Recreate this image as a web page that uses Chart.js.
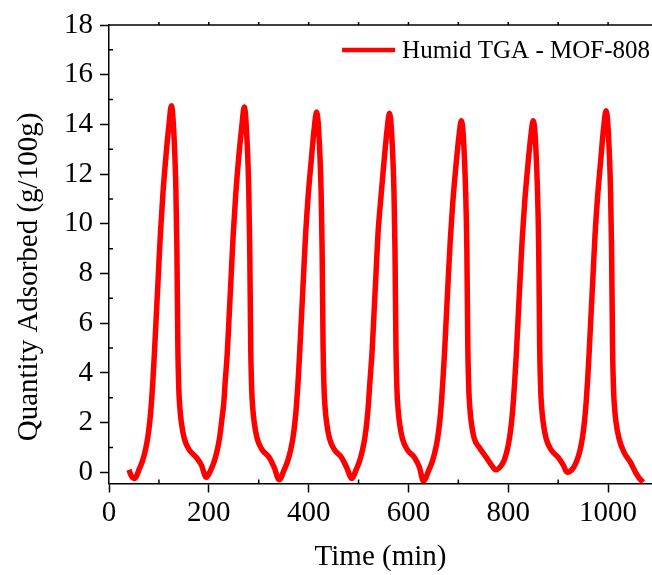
<!DOCTYPE html>
<html>
<head>
<meta charset="utf-8">
<script src="https://cdn.jsdelivr.net/npm/chart.js@4.4.1/dist/chart.umd.min.js"></script>
<style>
  html, body { margin: 0; padding: 0; background: #fff; }
</style>
</head>
<body>
<canvas id="tga" width="652" height="575"></canvas>
<script>
// labels
const seriesLabel = 'Humid TGA - MOF-808';
const xTitle = 'Time (min)';
const yTitle = 'Quantity Adsorbed (g/100g)';
const xTicks = [0, 200, 400, 600, 800, 1000];
const yTicks = [0, 2, 4, 6, 8, 10, 12, 14, 16, 18];

// seven adsorption / desorption cycles
const timeMin = [
  40, 45, 52, 60, 67, 73, 78, 82, 85, 88, 91, 95, 99, 103, 108, 114, 120, 125, 129, 134, 136, 138, 140, 142, 145, 151, 161, 175, 185, 195,
  204, 211, 217, 222, 226, 230, 233, 237, 241, 245, 249, 254, 260, 266, 271, 275, 280, 282, 284, 286, 288, 291, 297, 307, 321, 331, 341,
  351, 358, 364, 369, 373, 376, 379, 382, 386, 390, 394, 399, 405, 411, 416, 420, 425, 427, 429, 431, 433, 436, 442, 452, 466, 476, 487,
  495, 502, 508, 513, 517, 520, 523, 527, 531, 535, 539, 545, 551, 557, 562, 566, 571, 573, 575, 577, 579, 582, 588, 598, 612, 622, 630,
  641, 648, 654, 659, 663, 666, 669, 672, 676, 680, 684, 689, 695, 701, 706, 710, 715, 717, 719, 721, 723, 726, 732, 742, 756, 766, 775,
  785, 792, 798, 803, 807, 810, 813, 816, 820, 824, 828, 833, 839, 845, 850, 854, 859, 861, 863, 865, 867, 870, 876, 886, 900, 910, 918,
  931, 938, 944, 949, 953, 956, 959, 962, 966, 970, 974, 979, 985, 991, 996, 1000, 1005, 1007, 1009, 1011, 1013, 1016, 1022, 1032, 1045, 1055, 1063, 1070
];
const quantity = [
  0.1, -0.15, -0.25, 0.1, 0.45, 0.9, 1.45, 2.1, 2.8, 3.7, 4.8, 6.4, 8.0, 9.6, 11.2, 12.7, 13.95, 14.75, 14.0, 11.4, 9.0, 5.0, 3.3, 2.6, 2.0, 1.35, 0.9, 0.6, 0.3, -0.2,
  0.1, 0.45, 0.9, 1.45, 2.1, 2.8, 3.7, 4.8, 6.4, 8.0, 9.6, 11.2, 12.7, 13.9, 14.7, 13.95, 11.4, 9.0, 5.0, 3.3, 2.6, 2.0, 1.35, 0.9, 0.6, 0.2, -0.3,
  0.1, 0.45, 0.9, 1.45, 2.1, 2.8, 3.7, 4.8, 6.4, 8.0, 9.6, 11.1, 12.5, 13.8, 14.5, 13.8, 11.3, 9.0, 5.0, 3.3, 2.6, 2.0, 1.35, 0.9, 0.6, 0.2, -0.25,
  0.1, 0.45, 0.9, 1.45, 2.1, 2.8, 3.7, 4.8, 6.4, 8.0, 9.6, 11.1, 12.5, 13.75, 14.45, 13.75, 11.3, 9.0, 5.0, 3.3, 2.6, 2.0, 1.35, 0.9, 0.6, 0.2, -0.35,
  0.1, 0.45, 0.9, 1.45, 2.1, 2.8, 3.7, 4.7, 6.3, 7.9, 9.4, 10.9, 12.3, 13.5, 14.15, 13.5, 11.0, 9.0, 5.0, 3.3, 2.6, 2.0, 1.35, 1.0, 0.6, 0.3, 0.1,
  0.25, 0.5, 0.9, 1.45, 2.1, 2.8, 3.7, 4.7, 6.3, 7.9, 9.4, 10.9, 12.3, 13.5, 14.15, 13.5, 11.0, 9.0, 5.0, 3.3, 2.6, 2.0, 1.35, 0.9, 0.6, 0.3, 0.0,
  0.2, 0.5, 0.9, 1.45, 2.1, 2.8, 3.7, 4.8, 6.4, 8.0, 9.6, 11.1, 12.5, 13.85, 14.55, 13.85, 11.3, 9.0, 5.0, 3.3, 2.6, 2.0, 1.35, 0.8, 0.4, 0.0, -0.25, -0.4
];

const serif = "'Liberation Serif', 'Times New Roman', serif";

// top border, small inner ticks, legend and the y title
const framePlugin = {
  id: 'frame',
  afterDraw(chart) {
    const { ctx, chartArea: a, scales: { x, y } } = chart;
    ctx.save();
    ctx.strokeStyle = '#000';
    ctx.lineWidth = 1.5;
    ctx.beginPath();
    ctx.moveTo(a.left, a.top);
    ctx.lineTo(a.right, a.top);
    for (let v = 100; v <= x.max; v += 100) {
      const px = x.getPixelForValue(v);
      ctx.moveTo(px, a.top);
      ctx.lineTo(px, a.top - 3);
    }
    for (let v = 100; v <= x.max; v += 200) {
      const px = x.getPixelForValue(v);
      ctx.moveTo(px, a.bottom);
      ctx.lineTo(px, a.bottom - 4);
    }
    for (let v = 1; v < y.max; v += 2) {
      const py = y.getPixelForValue(v);
      ctx.moveTo(a.left, py);
      ctx.lineTo(a.left + 4, py);
    }
    ctx.stroke();

    // legend
    ctx.font = '25px ' + serif;
    ctx.fillStyle = '#000';
    ctx.textBaseline = 'alphabetic';
    const w = ctx.measureText(seriesLabel).width;
    const tx = a.right - 2 - w;
    const ty = a.top + 33;
    ctx.fillText(seriesLabel, tx, ty);
    ctx.strokeStyle = '#ff0000';
    ctx.lineWidth = 4.5;
    ctx.beginPath();
    ctx.moveTo(tx - 60, ty - 8);
    ctx.lineTo(tx - 7, ty - 8);
    ctx.stroke();

    // y axis title
    ctx.translate(29, 277);
    ctx.rotate(-Math.PI / 2);
    ctx.font = '29px ' + serif;
    ctx.textAlign = 'center';
    ctx.textBaseline = 'middle';
    ctx.fillText(yTitle, 0, 0);
    ctx.restore();
  }
};

const ctx = document.getElementById('tga').getContext('2d');
const chart = new Chart(ctx, {
  type: 'line',
  data: {
    datasets: [{
      label: seriesLabel,
      data: timeMin.map((t, i) => ({ x: t, y: quantity[i] })),
      borderColor: '#ff0000',
      backgroundColor: '#ff0000',
      borderWidth: 5.5,
      pointRadius: 0,
      cubicInterpolationMode: 'monotone',
      fill: false
    }]
  },
  options: {
    responsive: false,
    animation: false,
    layout: { padding: { top: 25, right: 0, bottom: 0, left: 0 } },
    plugins: {
      legend: { display: false },
      tooltip: { enabled: false }
    },
    scales: {
      x: {
        type: 'linear',
        min: 0,
        max: 1088,
        afterBuildTicks: (axis) => { axis.ticks = xTicks.map(v => ({ value: v })); },
        afterFit: (axis) => { axis.height = 91.5; },
        grid: { drawOnChartArea: false, tickLength: 9, tickWidth: 1.5, tickColor: '#000' },
        border: { color: '#000', width: 1.5 },
        ticks: { color: '#000', font: { family: serif, size: 29 }, padding: 3, maxRotation: 0, autoSkip: false,
                 callback: (v) => String(v) },
        title: { display: true, text: xTitle, color: '#000', font: { family: serif, size: 29 }, padding: { top: 0, bottom: 0 } }
      },
      y: {
        min: -0.45,
        max: 18,
        afterBuildTicks: (axis) => { axis.ticks = yTicks.map(v => ({ value: v })); },
        afterFit: (axis) => { axis.width = 109; },
        grid: { drawOnChartArea: false, tickLength: 9, tickWidth: 1.5, tickColor: '#000' },
        border: { color: '#000', width: 1.5 },
        ticks: { color: '#000', font: { family: serif, size: 29 }, padding: 7, autoSkip: false,
                 callback: (v) => String(v) }
      }
    }
  },
  plugins: [framePlugin]
});
</script>
</body>
</html>
